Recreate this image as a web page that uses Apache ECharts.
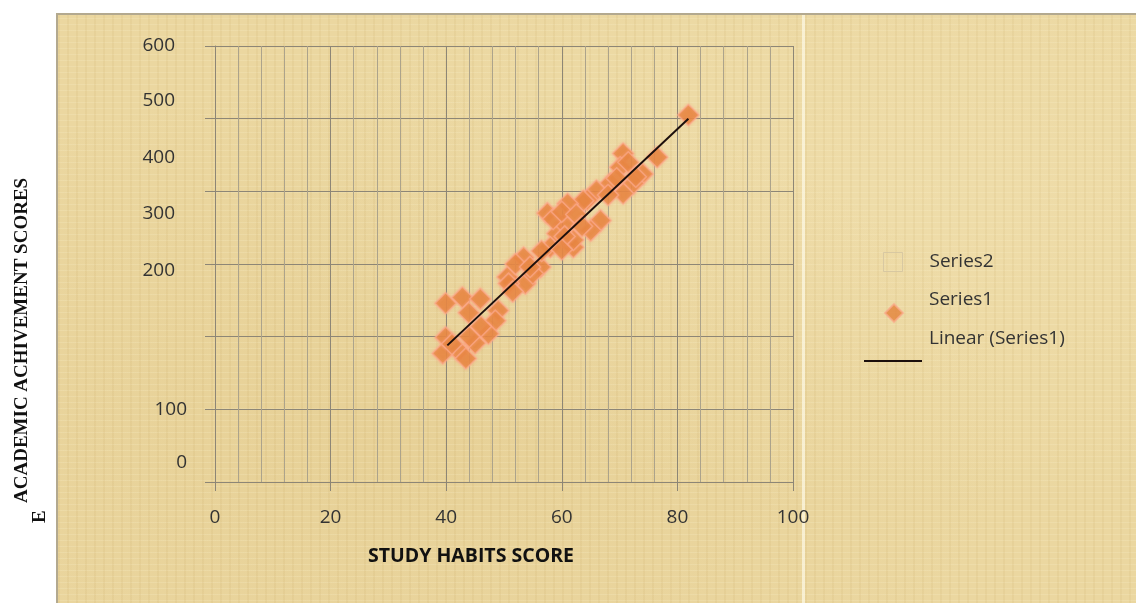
<!DOCTYPE html>
<html>
<head>
<meta charset="utf-8">
<script src="https://cdn.jsdelivr.net/npm/echarts@6/dist/echarts.min.js"></script>
<style>
  html, body { margin: 0; padding: 0; background: #ffffff; }
  #wrap { position: relative; width: 1136px; height: 603px; overflow: hidden; }
  #paper {
    position: absolute; left: 56px; top: 13px; right: -4px; bottom: -4px;
    border-left: 2px solid #b3a98f; border-top: 2px solid #b3a98f;
    background-color: #ebd7a0;
    background-image:
      linear-gradient(90deg, rgba(0,0,0,0) 744px, rgba(255,252,235,0.65) 744px, rgba(255,252,235,0.65) 747px, rgba(0,0,0,0) 747px),
      repeating-linear-gradient(90deg, rgba(170,130,50,0.07) 0 2px, rgba(0,0,0,0) 2px 9px),
      repeating-linear-gradient(0deg, rgba(255,250,220,0.16) 0 1px, rgba(0,0,0,0) 1px 6px),
      radial-gradient(ellipse at 30% 70%, rgba(200,160,80,0.12), rgba(0,0,0,0) 60%),
      radial-gradient(ellipse at 80% 30%, rgba(255,245,210,0.18), rgba(0,0,0,0) 55%);
  }
  #chart { position: absolute; left: 0; top: 0; width: 1136px; height: 603px; }
</style>
</head>
<body>
<div id="wrap">
  <div id="paper"></div>
  <div id="chart"></div>
</div>
<script>
// ---- data ----
const studyHabits = [81.9, 76.5, 70.6, 70.1, 74.0, 72.4, 68.4, 66.0, 64.4, 66.7, 65.0, 63.7, 61.0, 57.5, 59.2, 62.0, 58.0, 56.3, 53.4, 50.6, 53.7, 55.0, 50.8, 49.0, 48.5, 47.3, 45.0, 42.1, 43.4, 39.4, 39.9, 39.9, 42.8, 45.9, 43.9, 70.6, 62.0, 60.5,
  58.5, 60.0, 62.5, 63.5, 60.5, 56.5, 52.0, 68.0, 71.5, 72.8, 69.5, 46.0, 44.0, 41.0, 51.5, 54.5, 60.0];
const achievement = [505, 447, 452, 433, 424, 411, 411, 401, 388, 360, 346, 387, 383, 370, 342, 323, 323, 296, 309, 282, 273, 287, 273, 236, 222, 204, 191, 181, 170, 177, 199, 246, 254, 252, 233, 397, 333, 355,
  362, 372, 368, 352, 338, 318, 300, 395, 440, 420, 418, 214, 200, 190, 262, 296, 320];
const trendX = [40.2, 81.9];
const trendY = [188, 500];
const xTicks = [0, 20, 40, 60, 80, 100];
const yTicks = [0, 100, 200, 300, 400, 500, 600];
const seriesNames = ['Series2', 'Series1', 'Linear (Series1)'];
const xTitle = 'STUDY HABITS SCORE';
const yTitle = 'ACADEMIC ACHIVEMENT SCORES';
const yTitleExtra = 'E';

// vertical shift (px, upwards) of each y tick label as drawn in the reference
const yLabelShift = {0: 19, 100: 0, 200: 66, 300: 50, 400: 34, 500: 18, 600: 0};
const yLabelRightPad = {0: 0, 100: 0, 200: 12, 300: 12, 400: 12, 500: 12, 600: 12};

const scatterData = studyHabits.map((x, i) => [x, achievement[i]]);
const trendData = trendX.map((x, i) => [x, trendY[i]]);

const labelFont = '"Open Sans", "Liberation Sans", sans-serif';
const rich = {};
yTicks.forEach(v => {
  rich['s' + v] = {
    fontFamily: labelFont, fontSize: 19, color: '#333',
    padding: [0, yLabelRightPad[v], yLabelShift[v] * 2, 0]
  };
});

const gridColor = '#8d8676';
const minorColor = '#aca38b';
const legendText = {fontFamily: labelFont, fontSize: 19, color: '#333'};
const hiddenIcon = {color: 'rgba(0,0,0,0)', borderWidth: 0};

const chart = echarts.init(document.getElementById('chart'), null, {renderer: 'canvas'});
chart.setOption({
  backgroundColor: 'transparent',
  animation: false,
  grid: {left: 215, right: 343, top: 46, bottom: 121, containLabel: false},
  xAxis: {
    type: 'value', min: 0, max: 100, interval: 20,
    axisLine: {show: true, lineStyle: {color: gridColor, width: 1}},
    axisTick: {show: true, length: 9, inside: false, lineStyle: {color: gridColor}},
    axisLabel: {margin: 26, fontFamily: labelFont, fontSize: 19, color: '#333',
      formatter: v => xTicks.indexOf(v) >= 0 ? String(v) : ''},
    splitLine: {show: true, lineStyle: {color: gridColor, width: 1}},
    minorTick: {show: false, splitNumber: 5},
    minorSplitLine: {show: true, lineStyle: {color: minorColor, width: 1}}
  },
  yAxis: {
    type: 'value', min: 0, max: 600, interval: 100,
    axisLine: {show: true, lineStyle: {color: gridColor, width: 1}},
    axisTick: {show: true, length: 10, inside: false, lineStyle: {color: gridColor}},
    axisLabel: {margin: 28, fontFamily: labelFont, fontSize: 19, color: '#333',
      formatter: v => '{s' + v + '|' + v + '}', rich: rich},
    splitLine: {show: true, lineStyle: {color: gridColor, width: 1}}
  },
  legend: [
    // Series2: icon and text
    {data: [{name: seriesNames[0], icon: 'rect',
        itemStyle: {color: 'rgba(0,0,0,0)', borderColor: '#d2c3a0', borderWidth: 1}}],
     left: 883, top: 252, padding: 0, itemWidth: 19, itemHeight: 19, selectedMode: false,
     textStyle: Object.assign({padding: [0, 0, 0, 22]}, legendText)},
    // Series1: text
    {data: [{name: seriesNames[1], icon: 'rect', itemStyle: hiddenIcon}],
     left: 884, top: 290, padding: 0, itemWidth: 18, itemHeight: 18, selectedMode: false,
     textStyle: Object.assign({padding: [0, 0, 0, 22]}, legendText)},
    // Series1: marker
    {data: [{name: seriesNames[1], icon: 'diamond'}], formatter: () => '',
     left: 884, top: 303, padding: 0, itemWidth: 18, itemHeight: 18, selectedMode: false,
     textStyle: legendText},
    // Linear: text
    {data: [{name: seriesNames[2], icon: 'rect', itemStyle: hiddenIcon}],
     left: 864, top: 329, padding: 0, itemWidth: 58, itemHeight: 2, selectedMode: false,
     textStyle: Object.assign({padding: [0, 0, 0, 2]}, legendText)},
    // Linear: line marker
    {data: [{name: seriesNames[2], icon: 'rect'}], formatter: () => '',
     left: 864, top: 360, padding: 0, itemWidth: 58, itemHeight: 2, selectedMode: false,
     textStyle: legendText}
  ],
  graphic: [
    {type: 'text', left: 368, top: 546, style: {
      text: xTitle, fontFamily: labelFont, fontWeight: 'bold', fontSize: 19.5, fill: '#111'}},
    {type: 'text', x: 13, y: 503, rotation: Math.PI / 2, style: {
      text: yTitle, fontFamily: '"Liberation Serif", "DejaVu Serif", serif',
      fontWeight: 'bold', fontSize: 19, fill: '#111', align: 'left', verticalAlign: 'top'}},
    {type: 'text', x: 31, y: 523, rotation: Math.PI / 2, style: {
      text: yTitleExtra, fontFamily: '"Liberation Serif", "DejaVu Serif", serif',
      fontWeight: 'bold', fontSize: 19, fill: '#111', align: 'left', verticalAlign: 'top'}}
  ],
  series: [
    {name: seriesNames[0], type: 'scatter', data: [],
     itemStyle: {color: 'rgba(0,0,0,0)', borderColor: '#d2c3a0', borderWidth: 1}},
    {name: seriesNames[1], type: 'scatter', data: scatterData, symbol: 'diamond', symbolSize: 21,
     itemStyle: {color: '#e3823a', borderColor: 'rgba(250,170,140,0.85)', borderWidth: 1.5,
       shadowBlur: 3, shadowColor: 'rgba(255,160,130,0.7)'}},
    {name: seriesNames[2], type: 'line', data: trendData, symbol: 'none', z: 5,
     itemStyle: {color: '#1c0f0c'}, lineStyle: {color: '#1c0f0c', width: 2}}
  ]
});
</script>
</body>
</html>
